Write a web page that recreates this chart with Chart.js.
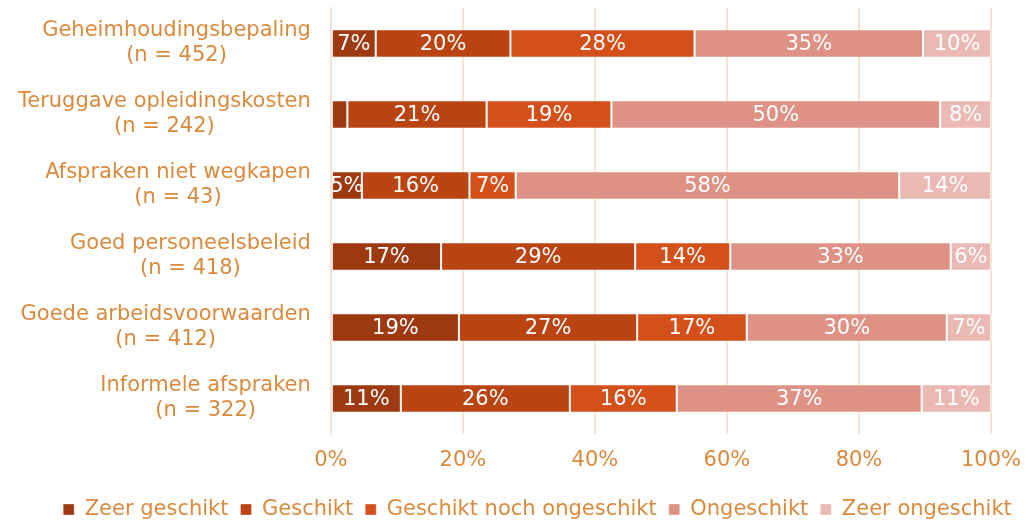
<!DOCTYPE html>
<html>
<head>
<meta charset="utf-8">
<script src="https://cdn.jsdelivr.net/npm/chart.js@4.4.1/dist/chart.umd.min.js"></script>
<style>
  html, body { margin: 0; padding: 0; background: #fff; }
  #wrap { width: 1025px; height: 523px; }
</style>
</head>
<body>
<div id="wrap"><canvas id="barChart"></canvas></div>
<script>
// Categorieën (met n)
const categories = [
    ['Geheimhoudingsbepaling', '(n = 452)'],
    ['Teruggave opleidingskosten', '(n = 242)'],
    ['Afspraken niet wegkapen', '(n = 43)'],
    ['Goed personeelsbeleid', '(n = 418)'],
    ['Goede arbeidsvoorwaarden', '(n = 412)'],
    ['Informele afspraken', '(n = 322)']
];

// Percentages per antwoord
const zeerGeschikt      = [6.8, 2.5, 4.7, 16.7, 19.4, 10.6];
const geschikt          = [20.4, 21.1, 16.3, 29.4, 27.0, 25.6];
const geschiktNoch      = [27.9, 18.9, 7.0, 14.4, 16.6, 16.2];
const ongeschikt        = [34.6, 49.8, 58.1, 33.4, 30.3, 37.1];
const zeerOngeschikt    = [10.3, 7.7, 13.9, 6.1, 6.7, 10.5];

const xTicks = [0, 20, 40, 60, 80, 100];

const orange = '#D98A3D';
const grid = '#F5E3D2';
const fontSize = 21;
const font = fontSize + 'px "DejaVu Sans"';

const barData = {
    labels: categories,
    datasets: [
        { label: 'Zeer geschikt', data: zeerGeschikt, backgroundColor: '#9E3A11' },
        { label: 'Geschikt', data: geschikt, backgroundColor: '#BA4513' },
        { label: 'Geschikt noch ongeschikt', data: geschiktNoch, backgroundColor: '#D4501A' },
        { label: 'Ongeschikt', data: ongeschikt, backgroundColor: '#DE9285' },
        { label: 'Zeer ongeschikt', data: zeerOngeschikt, backgroundColor: '#EAB9B3' }
    ].map(ds => Object.assign(ds, {
        borderColor: 'rgba(255,255,255,0.35)',
        borderWidth: 1,
        borderSkipped: false,
        barPercentage: 0.4,
        categoryPercentage: 1
    }))
};

// percentages in de balken
const valueLabels = {
    id: 'valueLabels',
    afterDatasetsDraw(chart) {
        const ctx = chart.ctx;
        ctx.save();
        ctx.font = font;
        ctx.fillStyle = '#fff';
        ctx.textAlign = 'center';
        ctx.textBaseline = 'middle';
        chart.data.datasets.forEach((ds, i) => {
            chart.getDatasetMeta(i).data.forEach((bar, j) => {
                const v = ds.data[j];
                if (v < 4) return;
                const p = bar.getProps(['x', 'y', 'base'], true);
                ctx.fillText(Math.round(v) + '%', (p.x + p.base) / 2, p.y + 1);
            });
        });
        ctx.restore();
    }
};

// y-labels: blok rechts uitgelijnd, regels onderling gecentreerd
const centeredLabels = {
    id: 'centeredLabels',
    afterDraw(chart) {
        const ctx = chart.ctx;
        const scale = chart.scales.y;
        const lineH = 25;
        ctx.save();
        ctx.font = font;
        ctx.fillStyle = orange;
        ctx.textAlign = 'center';
        ctx.textBaseline = 'middle';
        categories.forEach((lines, i) => {
            const w = Math.max(...lines.map(t => ctx.measureText(t).width));
            const cx = scale.right - 20 - w / 2;
            const y0 = scale.getPixelForTick(i) - (lines.length - 1) * lineH / 2;
            lines.forEach((t, k) => ctx.fillText(t, cx, y0 + k * lineH));
        });
        ctx.restore();
    }
};

// legenda iets naar rechts, zoals in het origineel
const legendShift = {
    id: 'legendShift',
    afterLayout(chart) {
        chart.legend.left += 43;
        chart.legend.right += 43;
    }
};

const barConfig = {
    type: 'bar',
    data: barData,
    options: {
        indexAxis: 'y',
        responsive: true,
        maintainAspectRatio: false,
        animation: false,
        layout: { padding: { top: 8, left: -2, right: 34, bottom: -7 } },
        scales: {
            x: {
                stacked: true,
                min: 0,
                max: 100,
                afterBuildTicks: axis => { axis.ticks = xTicks.map(v => ({ value: v })); },
                afterFit: axis => { axis.paddingLeft = 0; axis.paddingRight = 0; },
                ticks: {
                    callback: v => v + '%',
                    color: orange,
                    font: { family: 'DejaVu Sans', size: fontSize, lineHeight: 1 },
                    padding: 16
                },
                grid: { color: grid, lineWidth: 2, drawTicks: false },
                border: { display: false }
            },
            y: {
                stacked: true,
                afterFit: axis => { axis.paddingTop = 0; axis.paddingBottom = 0; },
                ticks: {
                    color: 'rgba(0,0,0,0)',
                    font: { family: 'DejaVu Sans', size: fontSize, lineHeight: 1.2 },
                    padding: 20
                },
                grid: { display: false, drawTicks: false },
                border: { display: true, color: grid, width: 2 }
            }
        },
        plugins: {
            legend: {
                position: 'bottom',
                labels: {
                    color: orange,
                    font: { family: 'DejaVu Sans', size: fontSize },
                    boxWidth: 11,
                    boxHeight: 11,
                    padding: 12
                }
            },
            tooltip: { enabled: false }
        }
    },
    plugins: [valueLabels, centeredLabels, legendShift]
};

window.onload = function() {
    const barCtx = document.getElementById('barChart').getContext('2d');
    new Chart(barCtx, barConfig);
};
</script>
</body>
</html>
